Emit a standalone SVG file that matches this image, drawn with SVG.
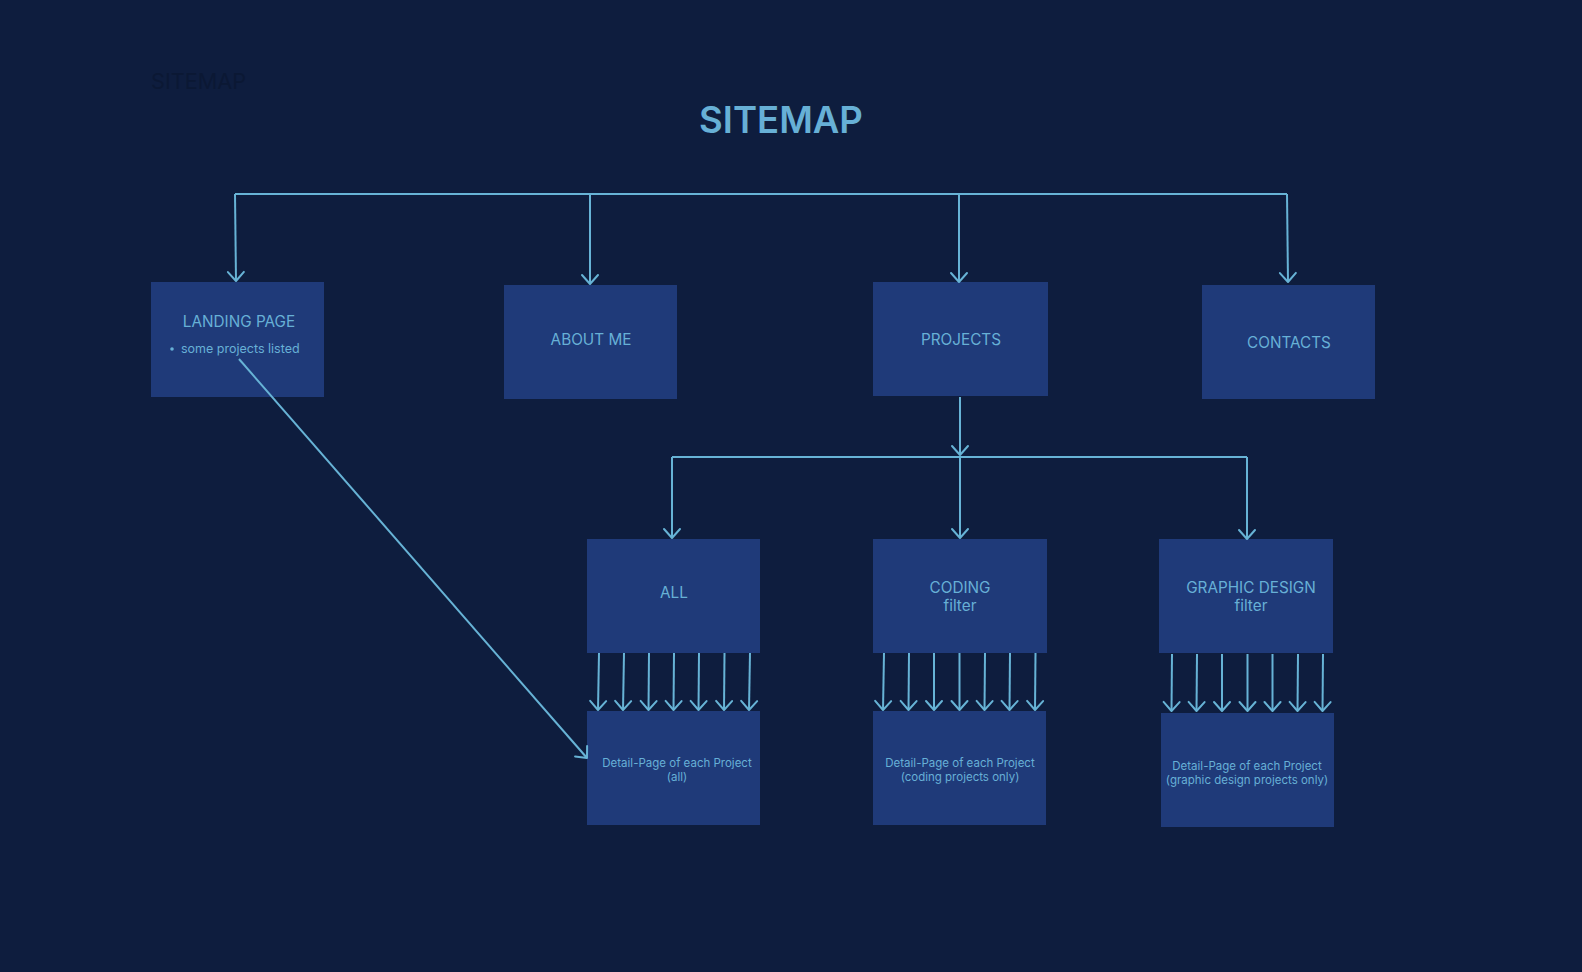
<svg xmlns="http://www.w3.org/2000/svg" width="1582" height="972" viewBox="0 0 1582 972">
<defs>
<style>
.box{fill:#1f3a79;}
.lbl{font-family:Inter,"Liberation Sans",sans-serif;font-size:15.3px;fill:#67b0d6;text-anchor:middle;}
.sm{font-family:Inter,"Liberation Sans",sans-serif;font-size:11.5px;fill:#67b0d6;text-anchor:middle;}
.ln{stroke:#67b3d6;stroke-width:2;fill:none;}
.ar{stroke:#67b3d6;stroke-width:2;fill:none;marker-end:url(#ah);}
</style>
<marker id="ah" viewBox="-12 -12 24 24" markerWidth="24" markerHeight="24" markerUnits="userSpaceOnUse" refX="0" refY="0" orient="auto" overflow="visible">
<path d="M-9,-8 L0,0 L-9,8" fill="none" stroke="#67b3d6" stroke-width="2" stroke-linecap="round" stroke-linejoin="round"/>
</marker>
</defs>
<rect x="0" y="0" width="1582" height="972" fill="#0e1d3e"/>
<text x="151" y="89" font-family="Inter,'Liberation Sans',sans-serif" font-size="21.7" fill="#0b1834">SITEMAP</text>
<text x="781" y="133" text-anchor="middle" font-family="Inter,'Liberation Sans',sans-serif" font-size="36.5" font-weight="600" fill="#67b0d6">SITEMAP</text>

<g id="landing">
<rect class="box" x="151" y="282" width="173" height="115"/>
<text class="lbl" x="239" y="327">LANDING PAGE</text>
<circle cx="172" cy="349" r="1.8" fill="#67b0d6"/>
<text x="181" y="353" font-family="Inter,'Liberation Sans',sans-serif" font-size="12.5" fill="#67b0d6">some projects listed</text>
</g>
<g id="about">
<rect class="box" x="504" y="285" width="173" height="114"/>
<text class="lbl" x="591" y="345">ABOUT ME</text>
</g>
<g id="projects">
<rect class="box" x="873" y="282" width="175" height="114"/>
<text class="lbl" x="961" y="345">PROJECTS</text>
</g>
<g id="contacts">
<rect class="box" x="1202" y="285" width="173" height="114"/>
<text class="lbl" x="1289" y="348">CONTACTS</text>
</g>
<g id="all">
<rect class="box" x="587" y="539" width="173" height="114"/>
<text class="lbl" x="674" y="598">ALL</text>
</g>
<g id="coding">
<rect class="box" x="873" y="539" width="174" height="114"/>
<text class="lbl" x="960" y="593">CODING</text>
<text class="lbl" x="960" y="611">filter</text>
</g>
<g id="graphic">
<rect class="box" x="1159" y="539" width="174" height="114"/>
<text class="lbl" x="1251" y="593">GRAPHIC DESIGN</text>
<text class="lbl" x="1251" y="611">filter</text>
</g>
<g id="detail-all">
<rect class="box" x="587" y="711" width="173" height="114"/>
<text class="sm" x="677" y="767">Detail-Page of each Project</text>
<text class="sm" x="677" y="781">(all)</text>
</g>
<g id="detail-coding">
<rect class="box" x="873" y="711" width="173" height="114"/>
<text class="sm" x="960" y="767">Detail-Page of each Project</text>
<text class="sm" x="960" y="781">(coding projects only)</text>
</g>
<g id="detail-graphic">
<rect class="box" x="1161" y="713" width="173" height="114"/>
<text class="sm" x="1247" y="770">Detail-Page of each Project</text>
<text class="sm" x="1247" y="784">(graphic design projects only)</text>
</g>

<g id="connectors">
<polyline class="ln" points="235,194 1287,194"/>
<line class="ar" x1="235" y1="194" x2="236" y2="281"/>
<line class="ar" x1="590" y1="194" x2="590" y2="284"/>
<line class="ar" x1="959" y1="194" x2="959" y2="282"/>
<line class="ar" x1="1287" y1="194" x2="1288" y2="282"/>
<line class="ar" x1="960" y1="397" x2="960" y2="455"/>
<polyline class="ln" points="672,457 1247,457"/>
<line class="ar" x1="672" y1="457" x2="672" y2="538"/>
<line class="ar" x1="960" y1="457" x2="960" y2="538"/>
<line class="ar" x1="1247" y1="457" x2="1247" y2="539"/>
<line class="ar" x1="239" y1="359" x2="587" y2="758"/>
<g id="all-arrows">
<line class="ar" x1="599" y1="653" x2="598" y2="710"/>
<line class="ar" x1="624" y1="653" x2="623" y2="710"/>
<line class="ar" x1="649" y1="653" x2="648.5" y2="710"/>
<line class="ar" x1="674" y1="653" x2="673.5" y2="710"/>
<line class="ar" x1="699" y1="653" x2="698.5" y2="710"/>
<line class="ar" x1="724.5" y1="653" x2="724" y2="710"/>
<line class="ar" x1="750" y1="653" x2="749" y2="710"/>
</g>
<g id="coding-arrows">
<line class="ar" x1="884" y1="653" x2="883" y2="710"/>
<line class="ar" x1="909" y1="653" x2="908.5" y2="710"/>
<line class="ar" x1="934" y1="653" x2="934" y2="710"/>
<line class="ar" x1="959.5" y1="653" x2="959.5" y2="710"/>
<line class="ar" x1="985" y1="653" x2="984.5" y2="710"/>
<line class="ar" x1="1010" y1="653" x2="1009.5" y2="710"/>
<line class="ar" x1="1035.5" y1="653" x2="1035" y2="710"/>
</g>
<g id="graphic-arrows">
<line class="ar" x1="1172" y1="654" x2="1171.5" y2="711"/>
<line class="ar" x1="1197" y1="654" x2="1196.5" y2="711"/>
<line class="ar" x1="1222" y1="654" x2="1222" y2="711"/>
<line class="ar" x1="1247.5" y1="654" x2="1247.5" y2="711"/>
<line class="ar" x1="1272.5" y1="654" x2="1272.5" y2="711"/>
<line class="ar" x1="1298" y1="654" x2="1297.5" y2="711"/>
<line class="ar" x1="1323" y1="654" x2="1322.5" y2="711"/>
</g>
</g>
</svg>
